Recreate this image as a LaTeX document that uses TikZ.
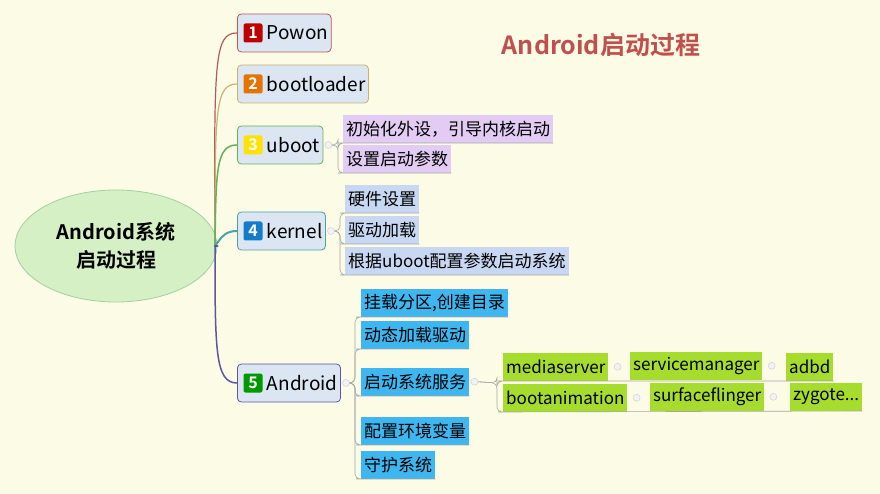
\documentclass[tikz,border=0pt]{standalone}
\usepackage{fontspec}
\setmainfont{Noto Sans CJK SC}[BoldFont=Noto Sans CJK SC Bold]
\usetikzlibrary{shapes.geometric}
\definecolor{bg}{HTML}{FBFBE6}
\definecolor{rootfill}{HTML}{D6F0C6}
\definecolor{boxfill}{HTML}{DCE6F2}
\definecolor{lav}{HTML}{E2CCF4}
\definecolor{lblue}{HTML}{C8D8F2}
\definecolor{cyanf}{HTML}{3EB6F0}
\definecolor{greenf}{HTML}{A6DC2E}
\definecolor{c1}{HTML}{B25A5A}
\definecolor{c2}{HTML}{C8B272}
\definecolor{c3}{HTML}{62B25E}
\definecolor{c4}{HTML}{4EA2A6}
\definecolor{c5}{HTML}{5E54A4}
\definecolor{ttl}{HTML}{C0504D}
\tikzset{
  branch/.style={draw=#1, line width=0.8pt, rounded corners=4pt, fill=boxfill, minimum height=38pt, inner xsep=3pt, anchor=west, font=\fontsize{19}{19}\selectfont},
  badge/.style={fill=#1, rounded corners=2pt, minimum size=19pt, inner sep=0pt, text=white, font=\bfseries\fontsize{16}{16}\selectfont},
  sub/.style={fill=#1, minimum height=28pt, inner xsep=3pt, anchor=south west, font=\fontsize{17}{17}\selectfont},
  conn/.style={line width=#1, line cap=round},
  ul/.style={draw=gray!70, line width=0.6pt, rounded corners=5pt},
  knob/.style={circle, draw=gray!40, fill=gray!10, inner sep=0pt, minimum size=7pt}
}
\begin{document}
\begin{tikzpicture}[x=1pt,y=-1pt]
\fill[bg] (0,0) rectangle (880,494);
\useasboundingbox (0,0) rectangle (880,494);

\node[font=\bfseries\fontsize{25}{25}\selectfont, text=ttl] (title) at (601,45) {Android启动过程};

\node[ellipse, draw=c3!60, line width=0.8pt, fill=rootfill, minimum width=202pt, minimum height=112pt, align=center, font=\bfseries\fontsize{20}{28}\selectfont] (root) at (116,246) {Android系统\\启动过程};
\coordinate (hub) at (215,246);

\node[branch=c1] (b1) at (237,33) {\phantom{0}\hspace{16pt}Powon};
\node[branch=c2] (b2) at (237,84) {\phantom{0}\hspace{16pt}bootloader};
\node[branch=c3] (b3) at (237,145) {\phantom{0}\hspace{16pt}uboot};
\node[branch=c4] (b4) at (237,231) {\phantom{0}\hspace{16pt}kernel};
\node[branch=c5] (b5) at (237,383) {\phantom{0}\hspace{16pt}Android};
\node[badge=red!75!black] (n1) at (253,33) {1};
\node[badge=orange!90!black] (n2) at (253,84) {2};
\node[badge=yellow!85!orange] (n3) at (253,145) {3};
\node[badge=cyan!60!blue] (n4) at (253,231) {4};
\node[badge=green!60!black] (n5) at (253,383) {5};

\draw[conn=1.2pt, c1] (hub) .. controls (214,60) and (214,33) .. (b1.west);
\draw[conn=1.2pt, c2] (hub) .. controls (215,110) and (215,84) .. (b2.west);
\draw[conn=1.5pt, c3] (hub) .. controls (216,170) and (216,145) .. (b3.west);
\draw[conn=2pt, c4] (hub) .. controls (222,236) and (226,231) .. (b4.west);
\draw[conn=1.5pt, c5] (hub) .. controls (215,350) and (215,383) .. (b5.west);
\draw[conn=2.5pt, c5] (root.east) -- (hub);

% uboot
\node[sub=lav] (s31) at (343,143) {初始化外设，引导内核启动};
\node[sub=lav] (s32) at (343,173) {设置启动参数};
\node[knob] (k3) at ([xshift=5pt]b3.east) {};
\foreach \s in {s31,s32} \draw[ul] (k3.east) -- (338,145) |- (\s.south west) -- (\s.south east);

% kernel
\node[sub=lblue] (s41) at (345,213) {硬件设置};
\node[sub=lblue] (s42) at (345,244) {驱动加载};
\node[sub=lblue] (s43) at (345,275) {根据uboot配置参数启动系统};
\node[knob] (k4) at ([xshift=5pt]b4.east) {};
\foreach \s in {s41,s42,s43} \draw[ul] (k4.east) -- (340,231) |- (\s.south west) -- (\s.south east);

% android
\node[sub=cyanf] (s51) at (361,317) {挂载分区,创建目录};
\node[sub=cyanf] (s52) at (361,349) {动态加载驱动};
\node[sub=cyanf] (s53) at (361,396) {启动系统服务};
\node[sub=cyanf] (s54) at (361,445) {配置环境变量};
\node[sub=cyanf] (s55) at (361,479) {守护系统};
\node[knob] (k5) at ([xshift=5pt]b5.east) {};
\foreach \s in {s51,s52,s53,s54,s55} \draw[ul] (k5.east) -- (355,383) |- (\s.south west) -- (\s.south east);

% services
\node[knob] (k53) at ([xshift=5pt]s53.east) {};
\node[sub=greenf] (g1) at (503,381) {mediaserver};
\node[knob] (kg1) at ([xshift=9pt]g1.east) {};
\node[sub=greenf] (g2) at (630,380) {servicemanager};
\node[knob] (kg2) at ([xshift=9pt]g2.east) {};
\node[sub=greenf] (g3) at (786,381) {adbd};
\node[sub=greenf] (g4) at (503,412) {bootanimation};
\node[knob] (kg4) at ([xshift=9pt]g4.east) {};
\node[sub=greenf] (g5) at (650,411) {surfaceflinger};
\node[knob] (kg5) at ([xshift=9pt]g5.east) {};
\node[sub=greenf] (g6) at (790,411) {zygote...};
\draw[ul] (k53.east) -- (497,383) |- (g1.south west) -- (g3.south east);
\draw[ul] (k53.east) -- (497,383) |- (g4.south west) -- (g6.south east);
\end{tikzpicture}
\end{document}
